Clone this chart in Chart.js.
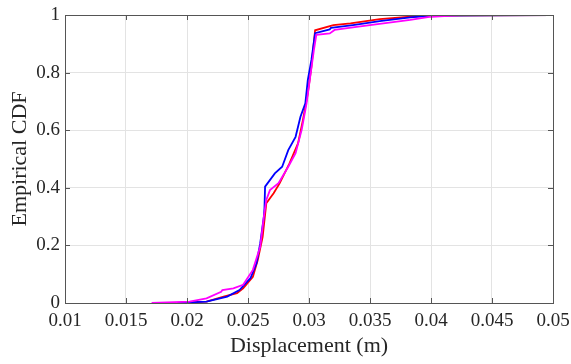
<!DOCTYPE html>
<html>
<head>
<meta charset="utf-8">
<script src="https://cdn.jsdelivr.net/npm/chart.js@4"></script>
<style>
  html, body { margin: 0; padding: 0; background: #fff; }
  #wrap { width: 571px; height: 364px; }
</style>
</head>
<body>
<div id="wrap"><canvas id="cdf"></canvas></div>
<script>
// ----------- Dane -----------
const xTicks = [0.01, 0.015, 0.02, 0.025, 0.03, 0.035, 0.04, 0.045, 0.05];
const xTickLabels = ['0.01', '0.015', '0.02', '0.025', '0.03', '0.035', '0.04', '0.045', '0.05'];
const yTicks = [0, 0.2, 0.4, 0.6, 0.8, 1];
const yTickLabels = ['0', '0.2', '0.4', '0.6', '0.8', '1'];

const redX = [0.0194, 0.0216, 0.0230, 0.0241, 0.0246, 0.0254, 0.0258, 0.0262, 0.0265, 0.0268, 0.0271, 0.0276, 0.0284, 0.0291, 0.0295, 0.0299, 0.0302, 0.0305, 0.0320, 0.0334, 0.0358, 0.0383, 0.0400, 0.0500];
const redY = [0, 0.005, 0.022, 0.034, 0.051, 0.091, 0.149, 0.230, 0.346, 0.364, 0.381, 0.416, 0.485, 0.554, 0.635, 0.728, 0.821, 0.947, 0.965, 0.971, 0.986, 0.994, 0.998, 1];

const blueX = [0.0192, 0.0216, 0.0233, 0.0243, 0.0252, 0.0257, 0.0260, 0.0263, 0.02635, 0.0264, 0.0272, 0.0278, 0.0283, 0.0289, 0.0293, 0.0297, 0.0299, 0.0302, 0.0305, 0.0317, 0.0318, 0.0336, 0.0358, 0.0383, 0.0400, 0.0500];
const blueY = [0, 0.005, 0.022, 0.045, 0.086, 0.138, 0.207, 0.300, 0.330, 0.404, 0.450, 0.473, 0.531, 0.577, 0.647, 0.693, 0.774, 0.844, 0.937, 0.950, 0.955, 0.965, 0.979, 0.992, 0.998, 1];

const magX = [0.0171, 0.0202, 0.0216, 0.0228, 0.0229, 0.0238, 0.0246, 0.0254, 0.0260, 0.0263, 0.0265, 0.0268, 0.0275, 0.0283, 0.0289, 0.0294, 0.0298, 0.0301, 0.0304, 0.0306, 0.0317, 0.0321, 0.0339, 0.0361, 0.0383, 0.0400, 0.0425, 0.0500];
const magY = [0, 0.005, 0.016, 0.039, 0.045, 0.051, 0.063, 0.115, 0.195, 0.300, 0.358, 0.392, 0.416, 0.473, 0.520, 0.601, 0.693, 0.786, 0.878, 0.931, 0.936, 0.948, 0.959, 0.971, 0.983, 0.994, 1, 1];

function pts(xs, ys) { return xs.map((x, i) => ({ x: x, y: ys[i] })); }

// ----------- Ramka + ticki do środka (styl MATLAB) -----------
const boxTicks = {
    id: 'boxTicks',
    afterDraw(chart) {
        const { ctx, chartArea: a, scales } = chart;
        const len = 5;
        ctx.save();
        ctx.strokeStyle = '#555';
        ctx.lineWidth = 1;
        ctx.beginPath();
        xTicks.forEach(v => {
            const px = Math.round(scales.x.getPixelForValue(v)) + 0.5;
            ctx.moveTo(px, a.bottom); ctx.lineTo(px, a.bottom - len);
            ctx.moveTo(px, a.top); ctx.lineTo(px, a.top + len);
        });
        yTicks.forEach(v => {
            const py = Math.round(scales.y.getPixelForValue(v)) + 0.5;
            ctx.moveTo(a.left, py); ctx.lineTo(a.left + len, py);
            ctx.moveTo(a.right, py); ctx.lineTo(a.right - len, py);
        });
        ctx.stroke();
        ctx.strokeRect(Math.round(a.left) + 0.5, Math.round(a.top) + 0.5, Math.round(a.right - a.left), Math.round(a.bottom - a.top));
        ctx.restore();
    }
};

const serif = "'Liberation Serif', 'Times New Roman', serif";
const line = (data, color) => ({
    data: data, borderColor: color, backgroundColor: color,
    borderWidth: 1.8, pointRadius: 0, tension: 0, fill: false
});

// pierwszy zestaw rysowany na wierzchu
new Chart(document.getElementById('cdf'), {
    type: 'line',
    data: {
        datasets: [
            line(pts(magX, magY), '#ff00ff'),
            line(pts(blueX, blueY), '#0000ff'),
            line(pts(redX, redY), '#ff0000')
        ]
    },
    options: {
        responsive: true,
        maintainAspectRatio: false,
        animation: false,
        layout: { padding: { top: 15, right: 18, left: 0, bottom: 0 } },
        plugins: { legend: { display: false }, tooltip: { enabled: false } },
        scales: {
            x: {
                type: 'linear', min: 0.01, max: 0.05,
                afterBuildTicks: s => { s.ticks = xTicks.map(v => ({ value: v })); },
                afterFit: s => { s.height = 61; s.paddingLeft = 0; s.paddingRight = 0; },
                ticks: {
                    callback: (v, i) => xTickLabels[i],
                    color: '#262626', padding: 7, maxRotation: 0,
                    font: { family: serif, size: 19 }
                },
                grid: { color: '#e3e3e3', drawTicks: false },
                border: { display: false },
                title: {
                    display: true, text: 'Displacement (m)', color: '#262626',
                    font: { family: serif, size: 22 }, padding: { top: 0, bottom: 5 }
                }
            },
            y: {
                type: 'linear', min: 0, max: 1,
                afterBuildTicks: s => { s.ticks = yTicks.map(v => ({ value: v })); },
                afterFit: s => { s.width = 65; s.paddingTop = 0; s.paddingBottom = 0; },
                ticks: {
                    callback: (v, i) => yTickLabels[i],
                    color: '#262626', padding: 5,
                    font: { family: serif, size: 19 }
                },
                grid: { color: '#e3e3e3', drawTicks: false },
                border: { display: false },
                title: {
                    display: true, text: 'Empirical CDF', color: '#262626',
                    font: { family: serif, size: 22 }, padding: { top: 7, bottom: 0 }
                }
            }
        }
    },
    plugins: [boxTicks]
});
</script>
</body>
</html>
